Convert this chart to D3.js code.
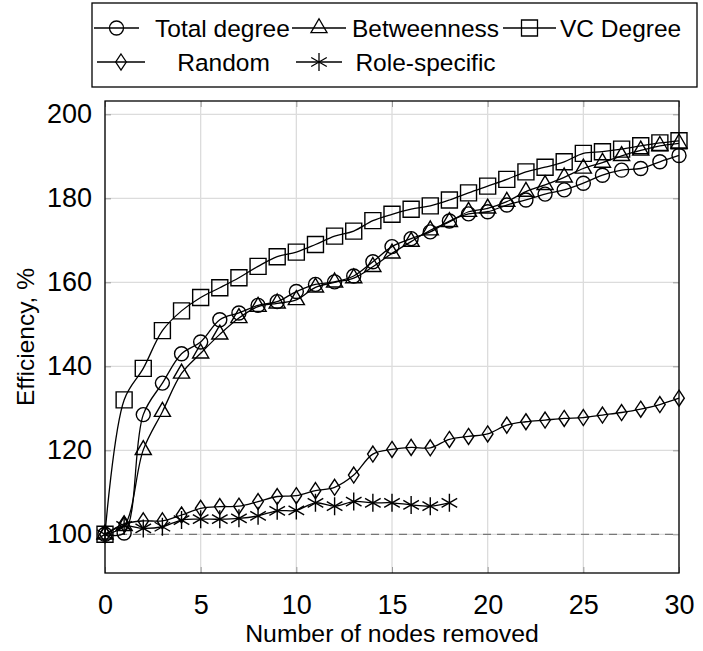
<!DOCTYPE html>
<html><head><meta charset="utf-8">
<script src="https://cdn.jsdelivr.net/npm/d3@7"></script>
<style>body{margin:0;background:#fff;} text{font-family:"Liberation Sans", Arial, sans-serif;fill:#000;}</style>
</head><body><svg id="c" width="703" height="651"></svg>
<script>
const nodesRemoved = [0,1,2,3,4,5,6,7,8,9,10,11,12,13,14,15,16,17,18,19,20,21,22,23,24,25,26,27,28,29,30];
const totalDegree = [100,100.3,128.5,136,143,145.8,151.1,152.7,154.5,155.4,157.8,159.5,160.1,161.5,164.9,168.5,170.4,172,174.6,176.3,176.8,178.4,179.6,181,182,183.6,185.5,186.7,187.1,188.7,190.2];
const betweenness = [100,102,120.1,129.2,138.3,143.1,147.6,151.5,154.2,155,155.8,158.8,160,161,163.7,166.9,169.7,172.4,174.4,176.8,177.6,179.2,181.6,183.2,185,187.1,188.5,190.1,191.4,192.5,193.1];
const vcDegree = [100,132,139.5,148.5,153.2,156.4,158.7,161.1,163.8,166.1,167.2,169,171,172.2,174.7,176.2,177.4,178.2,179.6,181.3,182.9,184.5,186.3,187.4,188.7,190.7,191.1,191.7,192.5,193.2,193.7];
const randomRemoval = [100,102.5,103.2,103.2,104.6,106.2,106.6,106.7,107.8,109,109.2,110.4,111.2,114.1,119.1,120.2,120.7,120.6,122.6,123.3,123.9,126,126.8,127.2,127.6,127.8,128.4,129,129.8,130.9,132.4];
const roleSpecific = [100,102,101.4,101.8,103.4,103.6,103.6,103.8,104.4,105.6,105.7,107.5,106.7,107.8,107.5,107.5,107,106.7,107.5];
const seriesNames = ["Total degree","Betweenness","VC Degree","Random","Role-specific"];
const seriesMarks = ["circle","triangle","square","diamond","asterisk"];
const xTicks = [0,5,10,15,20,25,30];
const yTicks = [100,120,140,160,180,200];
const baselineValue = 100;
const xLabel = "Number of nodes removed";
const yLabel = "Efficiency, %";

const seriesValues = [totalDegree, betweenness, vcDegree, randomRemoval, roleSpecific];

const svg = d3.select("#c");
const L = 105, R = 679, T = 101, B = 573;
const x = d3.scaleLinear().domain([0,30]).range([L,R]);
const y = d3.scaleLinear().domain([90.79,203.17]).range([B,T]);

function markPath(type){
  const p = d3.path();
  if(type==="circle"){ p.arc(0,0,7,0,2*Math.PI); }
  else if(type==="square"){ p.rect(-8,-8,16,16); }
  else if(type==="triangle"){ const r=9.3; p.moveTo(0,-r); p.lineTo(r*Math.cos(Math.PI/6), r*0.5); p.lineTo(-r*Math.cos(Math.PI/6), r*0.5); p.closePath(); }
  else if(type==="diamond"){ p.moveTo(0,-8); p.lineTo(5.3,0); p.lineTo(0,8); p.lineTo(-5.3,0); p.closePath(); }
  else if(type==="asterisk"){ const r=9; for(const a of [90,30,150]){ const c=Math.cos(a*Math.PI/180)*r, s=Math.sin(a*Math.PI/180)*r; p.moveTo(c,-s); p.lineTo(-c,s);} }
  return p.toString();
}

// grid
const g = svg.append("g");
g.selectAll(".gx").data(xTicks).join("line").attr("x1",d=>x(d)).attr("x2",d=>x(d)).attr("y1",T).attr("y2",B).attr("stroke","#dcdcdc").attr("stroke-width",1.3);
g.selectAll(".gy").data(yTicks).join("line").attr("y1",d=>y(d)).attr("y2",d=>y(d)).attr("x1",L).attr("x2",R).attr("stroke","#dcdcdc").attr("stroke-width",1.3);

// axes ticks (inward, both sides)
const xAxisB = d3.axisBottom(x).tickValues(xTicks).tickSize(-6).tickPadding(22).tickFormat(d3.format("d"));
const xAxisT = d3.axisTop(x).tickValues(xTicks).tickSize(-6).tickFormat("");
const yAxisL = d3.axisLeft(y).tickValues(yTicks).tickSize(-6).tickPadding(13).tickFormat(d3.format("d"));
const yAxisR = d3.axisRight(y).tickValues(yTicks).tickSize(-6).tickFormat("");
function styleAxis(sel){ sel.select(".domain").remove(); sel.selectAll(".tick line").attr("stroke","#999").attr("stroke-width",1); sel.selectAll("text").attr("font-size",27).attr("font-family","Liberation Sans, Arial, sans-serif").attr("fill","#000"); }
svg.append("g").attr("transform",`translate(0,${B})`).call(xAxisB).call(styleAxis);
svg.append("g").attr("transform",`translate(0,${T})`).call(xAxisT).call(styleAxis);
svg.append("g").attr("transform",`translate(${L},0)`).call(yAxisL).call(styleAxis);
svg.append("g").attr("transform",`translate(${R},0)`).call(yAxisR).call(styleAxis);

// baseline dashed
svg.append("line").attr("x1",x(0)).attr("x2",x(30)).attr("y1",y(baselineValue)).attr("y2",y(baselineValue))
  .attr("stroke","#777").attr("stroke-width",1.3).attr("stroke-dasharray","8,6");

// series
const line = d3.line().x(d=>x(d[0])).y(d=>y(d[1])).curve(d3.curveCatmullRom.alpha(0.5));
seriesValues.forEach((vals,i)=>{
  const pts = vals.map((v,j)=>[nodesRemoved[j],v]);
  const sg = svg.append("g");
  sg.append("path").attr("d",line(pts)).attr("fill","none").attr("stroke","#000").attr("stroke-width",1.3);
  sg.selectAll("path.m").data(pts).join("path").attr("class","m")
    .attr("transform",d=>`translate(${x(d[0])},${y(d[1])})`).attr("d",markPath(seriesMarks[i]))
    .attr("fill","none").attr("stroke","#000").attr("stroke-width",1.4);
});

// frame
svg.append("rect").attr("x",L).attr("y",T).attr("width",R-L).attr("height",B-T).attr("fill","none").attr("stroke","#000").attr("stroke-width",1.3);

// axis labels
svg.append("text").attr("x",(L+R)/2).attr("y",642).attr("text-anchor","middle").attr("font-size",24.8).text(xLabel);
svg.append("text").attr("transform",`translate(34,${(T+B)/2}) rotate(-90)`).attr("text-anchor","middle").attr("font-size",24.5).text(yLabel);

// legend
const lg = svg.append("g");
lg.append("rect").attr("x",92).attr("y",3).attr("width",605).attr("height",84).attr("fill","#fff").attr("stroke","#000").attr("stroke-width",1.3);
const legendPos = [
  {lx:94, lw:45, ty:28, tx:155, anchor:"start"},
  {lx:292, lw:54, ty:28, tx:352, anchor:"start"},
  {lx:503, lw:53, ty:28, tx:560, anchor:"start"},
  {lx:97, lw:48, ty:62, tx:223.5, anchor:"middle"},
  {lx:296, lw:46, ty:62, tx:425.5, anchor:"middle"}
];
seriesNames.forEach((name,i)=>{
  const p = legendPos[i];
  lg.append("line").attr("x1",p.lx).attr("x2",p.lx+p.lw).attr("y1",p.ty).attr("y2",p.ty).attr("stroke","#000").attr("stroke-width",1.3);
  lg.append("path").attr("transform",`translate(${p.lx+p.lw/2},${p.ty})`).attr("d",markPath(seriesMarks[i])).attr("fill","none").attr("stroke","#000").attr("stroke-width",1.3);
  lg.append("text").attr("x",p.tx).attr("y",p.ty).attr("dy","0.35em").attr("text-anchor",p.anchor).attr("font-size",24.5).text(name);
});
</script></body></html>
